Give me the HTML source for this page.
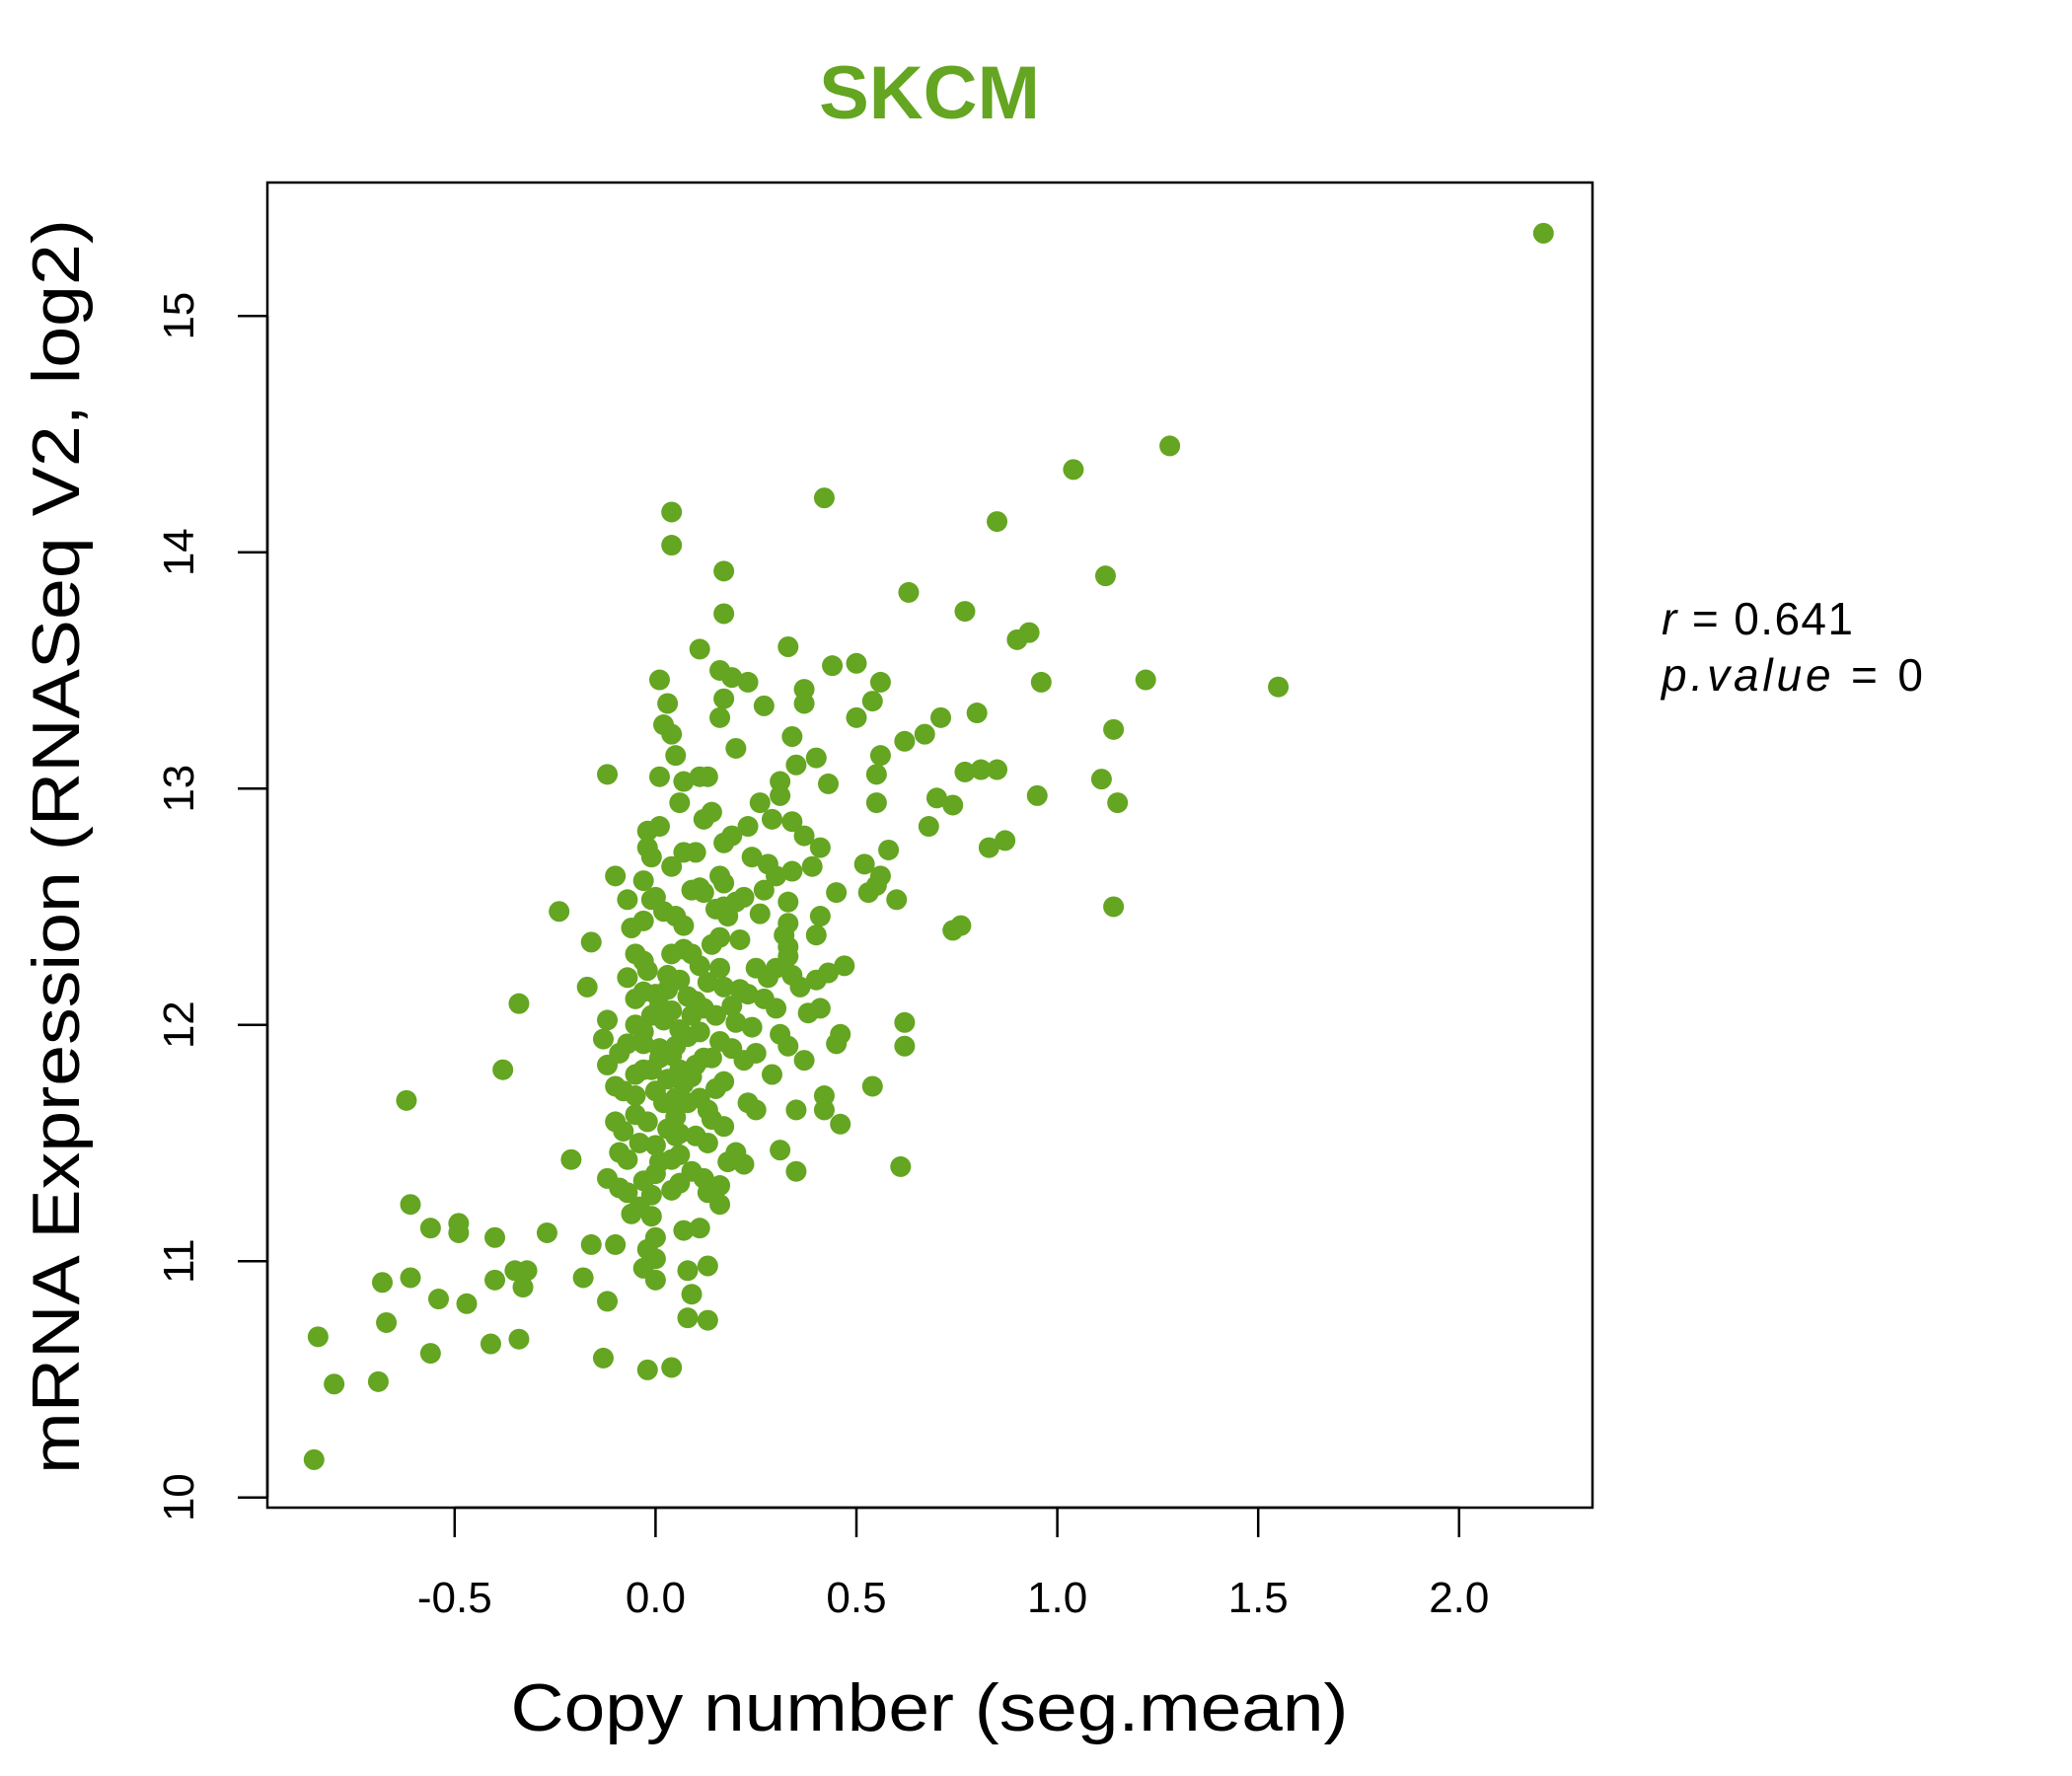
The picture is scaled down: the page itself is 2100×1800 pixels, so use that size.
<!DOCTYPE html>
<html><head><meta charset="utf-8"><style>
html,body{margin:0;padding:0;background:#fff;}
svg{display:block;font-family:"Liberation Sans",Arial,sans-serif;}
</style></head><body>
<svg id="chart" width="2100" height="1800" viewBox="0 0 2100 1800" xmlns="http://www.w3.org/2000/svg">
<rect width="2100" height="1800" fill="#fff"/>
<text x="942" y="120" text-anchor="middle" font-size="76" font-weight="bold" fill="#64a521">SKCM</text>
<rect x="271" y="185" width="1343" height="1343" fill="none" stroke="#000" stroke-width="2.5"/>
<g id="points"></g>
<g id="xaxis"></g>
<g id="yaxis"></g>
<text x="942" y="1754" text-anchor="middle" font-size="68" textLength="849" lengthAdjust="spacingAndGlyphs">Copy number (seg.mean)</text>
<text transform="translate(80,858) rotate(-90)" text-anchor="middle" font-size="68" textLength="1272" lengthAdjust="spacingAndGlyphs">mRNA Expression (RNASeq V2, log2)</text>
<text x="1684" y="643" font-size="46" textLength="194" lengthAdjust="spacing"><tspan font-style="italic">r</tspan> = 0.641</text>
<text x="1684" y="700" font-size="46" textLength="265" lengthAdjust="spacing"><tspan font-style="italic">p.value</tspan> = 0</text>
</svg>
<script>
const xTicks=[-0.5,0,0.5,1,1.5,2];
const xTickLabels=["-0.5","0.0","0.5","1.0","1.5","2.0"];
const yTicks=[10,11,12,13,14,15];
const yTickLabels=["10","11","12","13","14","15"];
const xVals=[2.21,1.28,1.04,0.85,0.42,0.04,0.04,1.12,0.17,0.63,0.17,0.77,0.93,0.90,0.33,0.11,0.44,0.50,0.16,0.19,0.01,0.23,0.56,0.96,1.22,1.55,0.37,0.37,0.03,0.17,0.27,0.54,0.71,0.80,0.16,0.50,0.02,0.04,1.14,0.34,0.62,0.67,0.05,0.20,0.56,0.40,0.35,0.85,0.81,0.77,-0.12,0.01,0.11,0.13,0.55,0.07,0.31,0.43,1.11,0.95,1.15,0.70,0.74,0.55,0.06,0.26,0.31,0.14,0.12,0.29,0.34,0.68,0.23,-0.02,0.01,0.37,0.19,0.17,0.87,0.83,0.41,0.58,-0.02,-0.01,0.07,0.10,0.24,0.28,0.52,0.34,0.30,0.39,-0.10,0.04,0.16,0.17,-0.03,0.56,0.11,0.09,0.12,0.53,0.55,0.27,0.45,-0.07,-0.01,0.00,0.20,0.17,0.22,0.33,0.15,0.18,0.60,1.14,-0.24,0.26,0.41,0.02,0.05,0.07,-0.03,-0.06,0.33,0.32,0.76,0.74,-0.16,0.40,0.16,0.14,0.21,0.07,0.04,0.09,0.33,0.33,-0.05,-0.03,0.47,0.43,0.11,0.16,-0.02,0.30,0.34,0.25,0.28,-0.07,0.03,0.06,0.13,0.17,-0.17,0.36,0.40,0.21,0.23,-0.03,0.00,0.08,-0.05,0.10,-0.34,0.27,0.30,0.41,0.38,0.12,0.15,-0.01,0.02,0.04,-0.12,0.62,0.20,0.24,-0.05,-0.03,0.06,0.08,0.31,0.33,0.46,0.45,-0.13,0.16,0.19,-0.07,-0.09,0.01,0.04,0.62,0.12,0.10,0.25,0.22,0.37,-0.38,-0.12,-0.03,-0.05,0.06,0.03,0.29,0.17,0.15,-0.10,-0.08,0.54,0.00,0.05,0.11,0.08,0.42,0.42,-0.62,0.23,0.25,0.35,-0.05,-0.02,0.14,0.17,-0.10,-0.08,0.46,0.03,0.06,0.10,0.13,-0.04,0.00,0.31,0.20,0.18,-0.09,-0.07,-0.21,0.04,0.06,0.22,0.61,0.09,0.12,-0.12,0.35,-0.03,0.00,-0.09,-0.07,0.16,0.13,0.04,0.16,-0.61,-0.04,-0.06,-0.01,-0.49,-0.49,-0.56,-0.27,-0.40,0.07,0.11,0.00,-0.16,-0.10,-0.02,0.00,0.13,-0.35,-0.32,-0.33,-0.03,-0.61,-0.18,0.00,0.08,-0.68,-0.40,-0.54,-0.47,-0.12,0.09,0.08,0.13,-0.67,-0.84,-0.41,-0.34,-0.56,-0.13,-0.02,0.04,-0.69,-0.80,-0.85,0.01,0.05,0.07,0.02,-0.01,0.05,0.09,0.03,0.01,0.11,0.09,-0.03,-0.05,0.05,0.13,0.14,0.19,0.01,0.06,-0.01];
const yVals=[15.35,14.45,14.35,14.13,14.23,14.17,14.03,13.90,13.92,13.83,13.74,13.75,13.66,13.63,13.60,13.59,13.52,13.53,13.50,13.47,13.46,13.45,13.45,13.45,13.46,13.43,13.42,13.36,13.36,13.38,13.35,13.37,13.30,13.32,13.30,13.30,13.27,13.23,13.25,13.22,13.20,13.23,13.14,13.17,13.14,13.13,13.10,13.08,13.08,13.07,13.06,13.05,13.05,13.05,13.06,13.03,13.03,13.02,13.04,12.97,12.94,12.96,12.93,12.94,12.94,12.94,12.97,12.90,12.87,12.87,12.86,12.84,12.84,12.82,12.84,12.80,12.80,12.77,12.78,12.75,12.75,12.74,12.75,12.71,12.73,12.73,12.71,12.68,12.68,12.65,12.63,12.67,12.63,12.67,12.63,12.60,12.61,12.63,12.58,12.57,12.56,12.56,12.59,12.57,12.56,12.53,12.53,12.54,12.52,12.50,12.54,12.52,12.49,12.46,12.53,12.50,12.48,12.47,12.46,12.48,12.46,12.42,12.44,12.41,12.43,12.38,12.42,12.40,12.35,12.38,12.37,12.34,12.36,12.32,12.30,12.30,12.33,12.29,12.30,12.27,12.25,12.22,12.25,12.24,12.23,12.24,12.21,12.24,12.20,12.20,12.21,12.19,12.18,12.16,12.16,12.16,12.19,12.15,12.13,12.14,12.13,12.12,12.11,12.10,12.09,12.11,12.07,12.07,12.05,12.07,12.04,12.04,12.02,12.06,12.02,12.01,12.01,11.99,12.00,11.97,11.98,11.95,11.96,11.91,11.96,11.92,11.94,11.93,11.90,11.92,11.88,11.90,11.87,11.91,11.86,11.83,11.88,11.85,11.85,11.81,11.83,11.81,11.79,11.81,11.77,11.79,11.76,11.73,11.74,11.72,11.74,11.72,11.69,11.69,11.67,11.70,11.64,11.68,11.67,11.64,11.64,11.62,11.59,11.60,11.57,11.59,11.55,11.58,11.56,11.54,11.53,11.50,11.50,11.49,11.47,11.46,11.42,11.46,11.43,11.43,11.43,11.45,11.41,11.40,11.38,11.35,11.35,11.38,11.34,11.37,11.31,11.29,11.32,11.29,11.30,11.24,11.24,11.23,11.20,11.19,11.16,11.12,11.14,11.12,11.10,11.13,11.14,11.10,11.07,11.07,11.05,11.01,10.98,10.96,10.96,10.89,10.97,10.93,10.93,10.92,10.96,10.91,10.92,10.84,10.82,10.83,10.86,10.76,10.75,10.74,10.68,10.65,10.67,10.61,10.59,10.54,10.55,10.49,10.48,10.16,11.86,11.91,11.75,11.67,11.81,11.61,12.04,12.15,12.08,11.97,11.78,11.92,11.70,11.53,11.64,11.86,12.08,11.42,11.33,11.28];
const X=v=>664.4+v*407.2;
const Y=v=>1517.7-(v-10)*239.5;
const NS="http://www.w3.org/2000/svg";
function mk(tag,attrs){const e=document.createElementNS(NS,tag);for(const k in attrs)e.setAttribute(k,attrs[k]);return e;}
const pg=document.getElementById('points');
for(let i=0;i<xVals.length;i++){
  const c=mk('circle',{cx:X(xVals[i]),cy:Y(yVals[i]),r:10.5,fill:'#64a521'});
  
  
  pg.appendChild(c);
}
const xa=document.getElementById('xaxis');
const xl=mk('line',{x1:X(xTicks[0]),x2:X(xTicks[xTicks.length-1]),y1:1528,y2:1528,stroke:'#000','stroke-width':2.5});


xa.appendChild(xl);
xTicks.forEach((t,i)=>{
  const l=mk('line',{x1:X(t),x2:X(t),y1:1528,y2:1558,stroke:'#000','stroke-width':2.5});
  
  
  xa.appendChild(l);
  const tx=mk('text',{x:X(t),y:1634,'text-anchor':'middle','font-size':44});
  
  
  tx.textContent=xTickLabels[i];
  xa.appendChild(tx);
});
const ya=document.getElementById('yaxis');
const yl=mk('line',{x1:271,x2:271,y1:Y(yTicks[0]),y2:Y(yTicks[yTicks.length-1]),stroke:'#000','stroke-width':2.5});


ya.appendChild(yl);
yTicks.forEach((t,i)=>{
  const l=mk('line',{x1:241,x2:271,y1:Y(t),y2:Y(t),stroke:'#000','stroke-width':2.5});
  
  
  ya.appendChild(l);
  const tx=mk('text',{transform:`translate(196,${Y(t)}) rotate(-90)`,'text-anchor':'middle','font-size':44});
  
  
  tx.textContent=yTickLabels[i];
  ya.appendChild(tx);
});
</script>
</body></html>
